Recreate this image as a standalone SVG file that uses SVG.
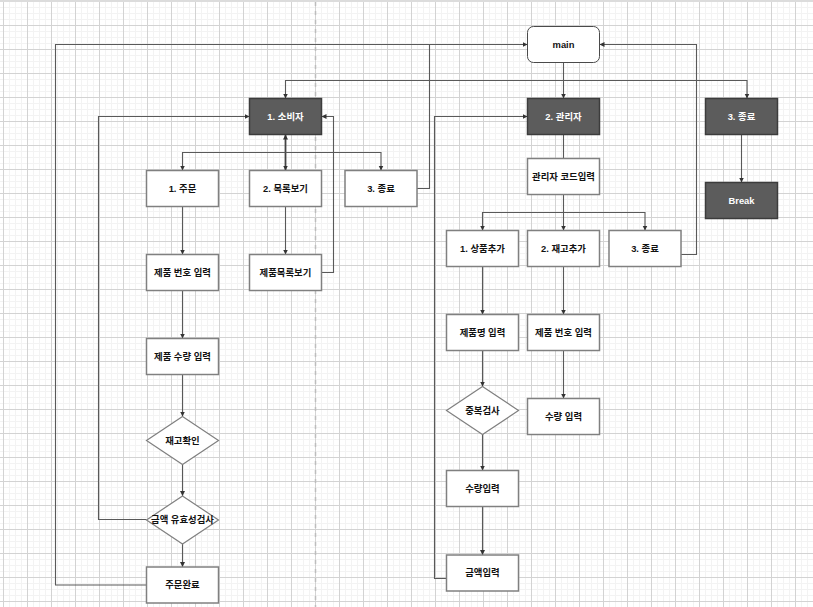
<svg xmlns="http://www.w3.org/2000/svg" width="813" height="607" viewBox="0 0 813 607">
<style>
.bx{fill:#fff;stroke:#808080;stroke-width:1.5}
.dk{fill:#5c5c5c;stroke:#3c3c3c;stroke-width:1.5}
.dm{fill:#fff;stroke:#808080;stroke-width:1.2}
.mn{fill:#fff;stroke:#4a4a4a;stroke-width:1}
text{font-family:"Liberation Sans","Noto Sans CJK KR",sans-serif;font-size:9.4px;font-weight:bold;text-anchor:middle;fill:#111}
.wt{fill:#fff}
.e{fill:none;stroke:#595959;stroke-width:1.1}
.ea{fill:none;stroke:#595959;stroke-width:1.1;marker-end:url(#ar)}
</style>
<defs>
<pattern id="grid" x="3" y="1" width="24" height="24" patternUnits="userSpaceOnUse">
<rect x="6" y="0" width="1" height="24" fill="#f3f3f3"/>
<rect x="12" y="0" width="1" height="24" fill="#f3f3f3"/>
<rect x="18" y="0" width="1" height="24" fill="#f3f3f3"/>
<rect x="0" y="6" width="24" height="1" fill="#f3f3f3"/>
<rect x="0" y="12" width="24" height="1" fill="#f3f3f3"/>
<rect x="0" y="18" width="24" height="1" fill="#f3f3f3"/>
<rect x="0" y="0" width="1" height="24" fill="#d3d3d3"/>
<rect x="0" y="0" width="24" height="1" fill="#d3d3d3"/>
</pattern>
<marker id="ar" markerUnits="userSpaceOnUse" markerWidth="6" markerHeight="6" refX="5" refY="2.5" orient="auto-start-reverse">
<path d="M0,0 L5,2.5 L0,5 Z" fill="#333"/>
</marker>
</defs>
<rect width="813" height="607" fill="#fff"/>
<rect width="813" height="607" fill="url(#grid)"/>
<rect width="813" height="2" fill="#dcdcdc"/>
<line x1="315.5" y1="2" x2="315.5" y2="607" stroke="#bdbdbd" stroke-width="1.5" stroke-dasharray="4 5"/>

<g id="connectors">
<path class="ea" d="M563.5,62.5 V98.5"/>
<path class="ea" d="M563.5,80.5 H285.5 V98.5"/>
<path class="ea" d="M563.5,80.5 H747 V98.5"/>
<path class="ea" d="M146.5,585 H55.5 V44.5 H527.5"/>
<path class="e" d="M417,188.5 H429.5 V44.5"/>
<path class="ea" d="M681,254.5 H696.5 V44.5 H599.5"/>
<path d="M285.5,134.5 V170.5" fill="none" stroke="#444" stroke-width="1.8" marker-start="url(#ar)" marker-end="url(#ar)"/>
<path class="ea" d="M285.5,152.5 H182.5 V170.5"/>
<path class="ea" d="M285.5,152.5 H381 V170.5"/>
<path class="ea" d="M182.5,206.5 V254.5"/>
<path class="ea" d="M285.5,206.5 V254.5"/>
<path class="ea" d="M321.5,272.5 H333.5 V116.5 H321.5"/>
<path class="ea" d="M182.5,290.5 V338.5"/>
<path class="ea" d="M182.5,374.5 V416.5"/>
<path class="ea" d="M182.5,464.5 V496"/>
<path class="ea" d="M182.5,544 V567"/>
<path class="ea" d="M146.5,519.5 H98.5 V116.5 H249.5"/>
<path class="e" d="M563.5,134.5 V158.5"/>
<path class="ea" d="M563.5,194.5 V212.5 H482.5 V230.5"/>
<path class="ea" d="M563.5,212.5 V230.5"/>
<path class="ea" d="M563.5,212.5 H645 V230.5"/>
<path class="ea" d="M482.5,266.5 V314.5"/>
<path class="ea" d="M563.5,266.5 V314.5"/>
<path class="ea" d="M482.5,350.5 V386.5"/>
<path class="ea" d="M563.5,350.5 V398.5"/>
<path class="ea" d="M482.5,434.5 V470.5"/>
<path class="ea" d="M482.5,506.5 V555"/>
<path class="ea" d="M446.5,578.5 H434.5 V116.5 H527.5"/>
<path class="ea" d="M741.5,134.5 V182.5"/>
</g>

<g id="main"><rect class="mn" x="527.5" y="26.5" width="72" height="36" rx="6"/><text x="563.5" y="47.5">main</text></g>
<g id="consumer"><rect class="dk" x="249.5" y="98.5" width="72" height="36"/><text class="wt" x="285.5" y="119.5">1. 소비자</text></g>
<g id="admin"><rect class="dk" x="527.5" y="98.5" width="72" height="36"/><text class="wt" x="563.5" y="119.5">2. 관리자</text></g>
<g id="exit"><rect class="dk" x="705.5" y="98.5" width="72" height="36"/><text class="wt" x="741.5" y="119.5">3. 종료</text></g>
<g id="break"><rect class="dk" x="705.5" y="182.5" width="72" height="36"/><text class="wt" x="741.5" y="203.5">Break</text></g>

<g id="c_order"><rect class="bx" x="146.5" y="170.5" width="72" height="36"/><text x="182.5" y="191.5">1. 주문</text></g>
<g id="c_list"><rect class="bx" x="249.5" y="170.5" width="72" height="36"/><text x="285.5" y="191.5">2. 목록보기</text></g>
<g id="c_exit"><rect class="bx" x="345" y="170.5" width="72" height="36"/><text x="381" y="191.5">3. 종료</text></g>
<g id="c_pno"><rect class="bx" x="146.5" y="254.5" width="72" height="36"/><text x="182.5" y="275.5">제품 번호 입력</text></g>
<g id="c_plist"><rect class="bx" x="249.5" y="254.5" width="72" height="36"/><text x="285.5" y="275.5">제품목록보기</text></g>
<g id="c_qty"><rect class="bx" x="146.5" y="338.5" width="72" height="36"/><text x="182.5" y="359.5">제품 수량 입력</text></g>
<g id="c_stock"><polygon class="dm" points="182.5,416.5 218.5,440.5 182.5,464.5 146.5,440.5"/><text x="182.5" y="443.5">재고확인</text></g>
<g id="c_valid"><polygon class="dm" points="182.5,496 218.5,520 182.5,544 146.5,520"/><text x="182.5" y="523">금액 유효성검사</text></g>
<g id="c_done"><rect class="bx" x="146.5" y="567" width="72" height="36"/><text x="182.5" y="588">주문완료</text></g>

<g id="a_code"><rect class="bx" x="527.5" y="158.5" width="72" height="36"/><text x="563.5" y="179.5">관리자 코드입력</text></g>
<g id="a_add"><rect class="bx" x="446.5" y="230.5" width="72" height="36"/><text x="482.5" y="251.5">1. 상품추가</text></g>
<g id="a_stock"><rect class="bx" x="527.5" y="230.5" width="72" height="36"/><text x="563.5" y="251.5">2. 재고추가</text></g>
<g id="a_exit"><rect class="bx" x="609" y="230.5" width="72" height="36"/><text x="645" y="251.5">3. 종료</text></g>
<g id="a_name"><rect class="bx" x="446.5" y="314.5" width="72" height="36"/><text x="482.5" y="335.5">제품명 입력</text></g>
<g id="a_pno"><rect class="bx" x="527.5" y="314.5" width="72" height="36"/><text x="563.5" y="335.5">제품 번호 입력</text></g>
<g id="a_dup"><polygon class="dm" points="482.5,386.5 518.5,410.5 482.5,434.5 446.5,410.5"/><text x="482.5" y="413.5">중복검사</text></g>
<g id="a_qty2"><rect class="bx" x="527.5" y="398.5" width="72" height="36"/><text x="563.5" y="419.5">수량 입력</text></g>
<g id="a_qty"><rect class="bx" x="446.5" y="470.5" width="72" height="36"/><text x="482.5" y="491.5">수량입력</text></g>
<g id="a_price"><rect class="bx" x="446.5" y="555" width="72" height="36"/><text x="482.5" y="576">금액입력</text></g>
</svg>
